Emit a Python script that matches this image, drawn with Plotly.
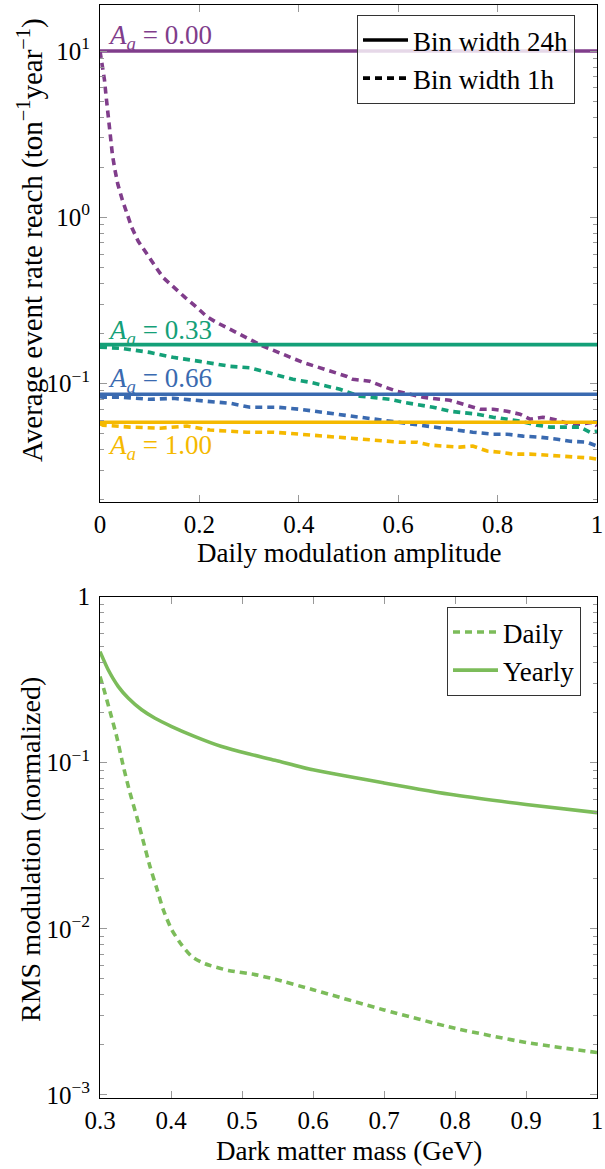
import plotly.graph_objects as go

# ---------------- Top panel data ----------------
amp_labels = ["0.00", "0.33", "0.66", "1.00"]
rate_24h = [10.0, 0.171, 0.086, 0.0583]

x_p = [0.0, 0.005, 0.009, 0.012, 0.015, 0.018, 0.022, 0.025, 0.030, 0.036, 0.045,
       0.054, 0.064, 0.077, 0.094, 0.111, 0.127, 0.148, 0.171, 0.195, 0.215, 0.235,
       0.275, 0.328, 0.408, 0.463, 0.497, 0.509, 0.543, 0.569, 0.598, 0.624, 0.650,
       0.684, 0.704, 0.738, 0.765, 0.791, 0.819, 0.845, 0.865, 0.891, 0.920, 0.946,
       0.966, 0.992, 1.0]
y_p = [10.0, 8.24, 6.70, 5.44, 4.43, 3.60, 2.92, 2.37, 1.93, 1.57, 1.27,
       1.06, 0.865, 0.716, 0.596, 0.507, 0.433, 0.378, 0.329, 0.286, 0.252, 0.232,
       0.202, 0.1675, 0.1337, 0.1186, 0.110, 0.1057, 0.1028, 0.0959, 0.0895, 0.0859, 0.0824,
       0.0801, 0.079, 0.0738, 0.0698, 0.0698, 0.0679, 0.0652, 0.0608, 0.0625, 0.0600, 0.0568,
       0.0568, 0.0583, 0.0553]

x_g = [0.0, 0.006, 0.046, 0.100, 0.147, 0.201, 0.262, 0.302, 0.348, 0.388, 0.423,
       0.463, 0.483, 0.523, 0.549, 0.583, 0.610, 0.644, 0.670, 0.704, 0.759, 0.791,
       0.819, 0.845, 0.879, 0.905, 0.932, 0.966, 0.986, 1.0]
y_g = [0.165, 0.1644, 0.162, 0.1535, 0.1433, 0.1355, 0.1265, 0.124, 0.1133, 0.1057, 0.1014,
       0.0946, 0.092, 0.0836, 0.0824, 0.0801, 0.0769, 0.0738, 0.0718, 0.0679, 0.0652, 0.0625,
       0.0608, 0.0592, 0.056, 0.0545, 0.0545, 0.0545, 0.0508, 0.0515]

x_b = [0.0, 0.006, 0.046, 0.100, 0.147, 0.201, 0.262, 0.302, 0.356, 0.402, 0.449,
       0.497, 0.549, 0.590, 0.644, 0.678, 0.710, 0.750, 0.791, 0.819, 0.851, 0.885,
       0.920, 0.946, 0.980, 1.0]
y_b = [0.083, 0.0824, 0.0824, 0.0801, 0.0812, 0.079, 0.0758, 0.0718, 0.0718, 0.0698, 0.0669,
       0.0634, 0.0608, 0.0583, 0.056, 0.0545, 0.0523, 0.0508, 0.0494, 0.0494, 0.0481, 0.0474,
       0.0461, 0.0448, 0.0442, 0.0419]

x_y = [0.0, 0.006, 0.060, 0.121, 0.175, 0.221, 0.296, 0.348, 0.402, 0.449, 0.489,
       0.517, 0.557, 0.604, 0.638, 0.664, 0.690, 0.724, 0.750, 0.779, 0.805, 0.831,
       0.865, 0.899, 0.926, 0.952, 0.986, 1.0]
y_y = [0.057, 0.056, 0.0545, 0.0537, 0.0553, 0.0523, 0.0508, 0.0508, 0.0494, 0.0481, 0.0474,
       0.0461, 0.0455, 0.0442, 0.0442, 0.0425, 0.0419, 0.0413, 0.0419, 0.0391, 0.0385, 0.0375,
       0.0375, 0.037, 0.0365, 0.036, 0.0355, 0.035]

# ---------------- Bottom panel data ----------------
mass_yearly = [0.300, 0.3117, 0.3258, 0.340, 0.3587, 0.3775, 0.401, 0.4338, 0.4714, 0.5089,
               0.5465, 0.600, 0.700, 0.800, 0.900, 1.000]
rms_yearly = [0.466, 0.361, 0.287, 0.244, 0.208, 0.185, 0.165, 0.1435, 0.125, 0.113,
              0.1035, 0.0905, 0.0755, 0.0638, 0.0560, 0.050]

mass_daily = [0.300, 0.307, 0.3141, 0.3235, 0.3329, 0.3423, 0.3517, 0.361, 0.3704, 0.3798,
              0.3892, 0.401, 0.415, 0.4291, 0.4479, 0.4807, 0.5183, 0.5465, 0.600, 0.700,
              0.800, 0.900, 1.000]
rms_daily = [0.33, 0.262, 0.203, 0.1435, 0.0948, 0.0656, 0.0474, 0.0336, 0.0237, 0.0176,
             0.0130, 0.00988, 0.0080, 0.00682, 0.00616, 0.00562, 0.0053, 0.00497, 0.0043, 0.00325,
             0.00252, 0.00207, 0.0018]

top_xticks = [0, 0.2, 0.4, 0.6, 0.8, 1]
top_xlabels = ["0", "0.2", "0.4", "0.6", "0.8", "1"]
top_yticks = [0.1, 1, 10]
top_ylabels = ["10<sup>−1</sup>", "10<sup>0</sup>", "10<sup>1</sup>"]
bot_xticks = [0.3, 0.4, 0.5, 0.6, 0.7, 0.8, 0.9, 1.0]
bot_xlabels = ["0.3", "0.4", "0.5", "0.6", "0.7", "0.8", "0.9", "1"]
bot_yticks = [0.001, 0.01, 0.1, 1]
bot_ylabels = ["10<sup>−3</sup>", "10<sup>−2</sup>", "10<sup>−1</sup>", "1"]

colors = ["rgb(128,61,139)", "rgb(20,160,120)", "rgb(58,106,176)", "rgb(245,185,0)"]
lgreen = "rgb(124,188,90)"
FONT = "Liberation Serif"
LW = 3.6
DASH = "7px,5px"
TXT = 27

fig = go.Figure()

dashed = [(x_p, y_p), (x_g, y_g), (x_b, y_b), (x_y, y_y)]
for i, (xs, ys) in enumerate(dashed):
    fig.add_trace(go.Scatter(x=xs, y=ys, mode="lines", xaxis="x", yaxis="y",
                             line=dict(color=colors[i], width=LW, dash=DASH),
                             showlegend=False))
for i, v in enumerate(rate_24h):
    fig.add_trace(go.Scatter(x=[0, 1], y=[v, v], mode="lines", xaxis="x", yaxis="y",
                             line=dict(color=colors[i], width=LW), showlegend=False))

# legend entries for top panel
fig.add_trace(go.Scatter(x=[None], y=[None], mode="lines", xaxis="x", yaxis="y",
                         line=dict(color="black", width=LW), name="Bin width 24h", legend="legend"))
fig.add_trace(go.Scatter(x=[None], y=[None], mode="lines", xaxis="x", yaxis="y",
                         line=dict(color="black", width=LW, dash=DASH), name="Bin width 1h", legend="legend"))

# bottom panel
fig.add_trace(go.Scatter(x=mass_daily, y=rms_daily, mode="lines", xaxis="x2", yaxis="y2",
                         line=dict(color=lgreen, width=LW, dash=DASH, shape="spline", smoothing=0.6),
                         name="Daily", legend="legend2"))
fig.add_trace(go.Scatter(x=mass_yearly, y=rms_yearly, mode="lines", xaxis="x2", yaxis="y2",
                         line=dict(color=lgreen, width=LW, shape="spline", smoothing=0.6),
                         name="Yearly", legend="legend2"))

W, H = 605, 1169
def px(v):
    return v / W
def py(v):
    return 1 - v / H

def minor_vals(lo, hi):
    out = []
    for e in range(lo, hi + 1):
        for d in range(2, 10):
            out.append(d * 10 ** e)
    return out

common_x = dict(ticks="inside", ticklen=7, tickcolor="#999", tickwidth=1, mirror="allticks",
                showline=True, linecolor="black", linewidth=1, showgrid=False, zeroline=False,
                tickmode="array", tickfont=dict(size=25, color="black", family=FONT))
common_y = dict(common_x, ticklabelstandoff=4)

leg = dict(xanchor="left", yanchor="top", bgcolor="rgba(255,255,255,0.8)", bordercolor="#333",
           borderwidth=1, font=dict(size=27, family=FONT, color="black"), tracegroupgap=0,
           itemwidth=45)

fig.update_layout(
    width=W, height=H, margin=dict(l=0, r=0, t=0, b=0, autoexpand=False),
    paper_bgcolor="white", plot_bgcolor="white",
    font=dict(family=FONT, color="black"),
    xaxis=dict(common_x, domain=[px(100), px(597)], range=[0, 1], anchor="y",
               tickvals=top_xticks, ticktext=top_xlabels),
    yaxis=dict(common_y, domain=[py(501.7), py(5)], type="log", range=[-1.7126, 1.277], anchor="x",
               tickvals=top_yticks, ticktext=top_ylabels,
               minor=dict(ticks="inside", ticklen=4, tickcolor="#999", tickmode="array",
                          tickvals=minor_vals(-2, 1), showgrid=False)),
    xaxis2=dict(common_x, domain=[px(100), px(597)], range=[0.3, 1], anchor="y2",
                tickvals=bot_xticks, ticktext=bot_xlabels),
    yaxis2=dict(common_y, domain=[py(1098.3), py(596.5)], type="log", range=[-3.02, 0], anchor="x2",
                tickvals=bot_yticks, ticktext=bot_ylabels,
                minor=dict(ticks="inside", ticklen=4, tickcolor="#999", tickmode="array",
                           tickvals=minor_vals(-4, 0), showgrid=False)),
    legend=dict(leg, x=px(357), y=py(15)),
    legend2=dict(leg, x=px(447), y=py(607)),
)

ann_y = [1.084, -0.691, -0.98, -1.383]
for i, lab in enumerate(amp_labels):
    fig.add_annotation(x=0.012, y=ann_y[i], xref="x", yref="y", xanchor="left", yanchor="middle",
                       text="<i>A<sub>a</sub></i> = " + lab, showarrow=False,
                       font=dict(size=27, color=colors[i], family=FONT))

def title(x, y, text, angle=0, size=TXT):
    fig.add_annotation(x=px(x), y=py(y), xref="paper", yref="paper", showarrow=False,
                       xanchor="center", yanchor="middle", textangle=angle, text=text,
                       font=dict(size=size, family=FONT, color="black"))

title(348.5, 553, "Daily modulation amplitude")
title(30, 240, "Average event rate reach (ton<sup>−1</sup>year<sup>−1</sup>)", -90, 29)
title(348.5, 1151, "Dark matter mass (GeV)")
title(30, 850, "RMS modulation (normalized)", -90, 28)

fig.write_html("out.html")
